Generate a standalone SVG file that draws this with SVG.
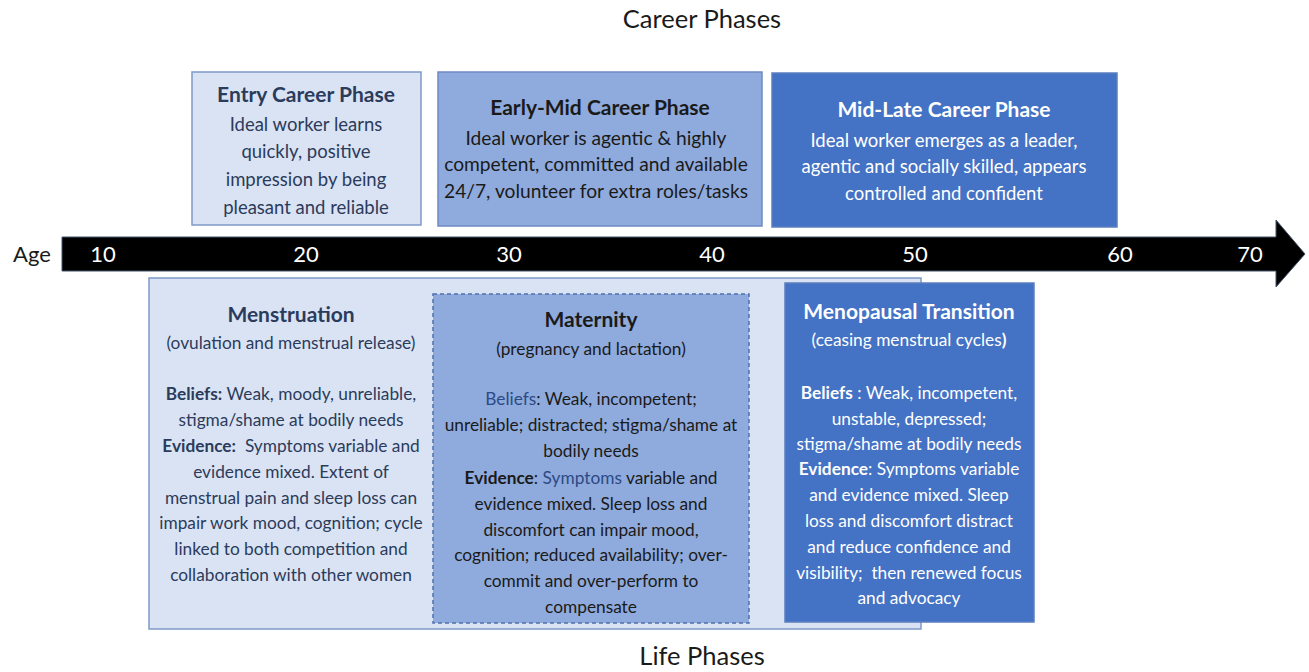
<svg xmlns="http://www.w3.org/2000/svg" width="1309" height="672" viewBox="0 0 1309 672">
  <style>
    text { font-family: Lato, "Open Sans", "Liberation Sans", sans-serif; text-anchor: middle; white-space: pre; }
    .heading { font-size: 25.5px; fill: #1a1a1a; }
    .axis { font-size: 22px; fill: #ffffff; }
    .ttl { font-size: 21px; font-weight: bold; }
    .body { font-size: 18.5px; }
    .bodyL { font-size: 19.2px; }
    .lt { font-size: 17.3px; }
    .b { font-weight: bold; }
    .pale { fill: #dae3f3; stroke: #7f99c8; stroke-width: 1.5; }
    .mid { fill: #8faadc; stroke: #6d8bc4; stroke-width: 1.5; }
    .deep { fill: #4472c4; stroke: #5b7fc0; stroke-width: 1.5; }
    .navy { fill: #2b3b5c; }
    .ink { fill: #1a1a1a; }
    .white { fill: #ffffff; }
  </style>

  <!-- headings -->
  <text class="heading" x="702" y="28">Career Phases</text>
  <text class="heading" x="702" y="665">Life Phases</text>

  <!-- career phase boxes -->
  <g id="entry-career">
    <rect class="pale" x="192" y="72" width="229" height="153"/>
    <text class="ttl navy" x="306" y="102">Entry Career Phase</text>
    <text class="body navy" x="306" y="131">Ideal worker learns</text>
    <text class="body navy" x="306" y="158">quickly, positive</text>
    <text class="body navy" x="306" y="186">impression by being</text>
    <text class="body navy" x="306" y="214">pleasant and reliable</text>
  </g>

  <g id="early-mid-career">
    <rect class="mid" x="438" y="72" width="324" height="154"/>
    <text class="ttl ink" x="600" y="115">Early-Mid Career Phase</text>
    <text class="bodyL ink" x="596" y="145">Ideal worker is agentic &amp; highly</text>
    <text class="bodyL ink" x="596" y="171">competent, committed and available</text>
    <text class="bodyL ink" x="596" y="198">24/7, volunteer for extra roles/tasks</text>
  </g>

  <g id="mid-late-career">
    <rect class="deep" x="772" y="73" width="345" height="154"/>
    <text class="ttl white" x="944" y="117">Mid-Late Career Phase</text>
    <text class="body white" x="944" y="147">Ideal worker emerges as a leader,</text>
    <text class="body white" x="944" y="173">agentic and socially skilled, appears</text>
    <text class="body white" x="944" y="200">controlled and confident</text>
  </g>

  <!-- age axis -->
  <g id="age-axis">
    <text x="32" y="262" style="font-size:22px;fill:#1a1a1a">Age</text>
    <path d="M62,237 H1276 V220 L1305,254 L1276,287 V271 H62 Z" fill="#000000" stroke="#44546a" stroke-width="1"/>
    <text class="axis" x="103" y="262">10</text>
    <text class="axis" x="306" y="262">20</text>
    <text class="axis" x="509" y="262">30</text>
    <text class="axis" x="712" y="262">40</text>
    <text class="axis" x="915" y="262">50</text>
    <text class="axis" x="1120" y="262">60</text>
    <text class="axis" x="1250" y="262">70</text>
  </g>

  <!-- life phase boxes -->
  <g id="menstruation">
    <rect class="pale" x="149" y="278" width="772" height="351"/>
    <text class="ttl navy" x="291" y="322">Menstruation</text>
    <text class="lt navy" x="291" y="349">(ovulation and menstrual release)</text>
    <text class="lt navy" x="291" y="400"><tspan class="b">Beliefs:</tspan> Weak, moody, unreliable,</text>
    <text class="lt navy" x="291" y="426">stigma/shame at bodily needs</text>
    <text class="lt navy" x="291" y="452"><tspan class="b">Evidence:</tspan>  Symptoms variable and</text>
    <text class="lt navy" x="291" y="478">evidence mixed. Extent of</text>
    <text class="lt navy" x="291" y="504">menstrual pain and sleep loss can</text>
    <text class="lt navy" x="291" y="529">impair work mood, cognition; cycle</text>
    <text class="lt navy" x="291" y="555">linked to both competition and</text>
    <text class="lt navy" x="291" y="581">collaboration with other women</text>
  </g>

  <g id="maternity">
    <rect x="433" y="294" width="316" height="329" fill="#8faadc" stroke="#4f72b0" stroke-width="1.5" stroke-dasharray="4,3"/>
    <text class="ttl ink" x="591" y="327">Maternity</text>
    <text class="lt ink" x="591" y="355">(pregnancy and lactation)</text>
    <text class="lt ink" x="591" y="405"><tspan fill="#2c4a85">Beliefs</tspan>: Weak, incompetent;</text>
    <text class="lt ink" x="591" y="431">unreliable; distracted; stigma/shame at</text>
    <text class="lt ink" x="591" y="457">bodily needs</text>
    <text class="lt ink" x="591" y="484"><tspan class="b">Evidence</tspan>: <tspan fill="#2c4a85">Symptoms</tspan> variable and</text>
    <text class="lt ink" x="591" y="510">evidence mixed. Sleep loss and</text>
    <text class="lt ink" x="591" y="536">discomfort can impair mood,</text>
    <text class="lt ink" x="591" y="561">cognition; reduced availability; over-</text>
    <text class="lt ink" x="591" y="587">commit and over-perform to</text>
    <text class="lt ink" x="591" y="613">compensate</text>
  </g>

  <g id="menopausal-transition">
    <rect class="deep" x="785" y="283" width="249" height="339"/>
    <text class="ttl white" x="909" y="319">Menopausal Transition</text>
    <text class="lt white" x="909" y="346">(ceasing menstrual cycles<tspan class="b">)</tspan></text>
    <text class="lt white" x="909" y="399"><tspan class="b">Beliefs</tspan> : Weak, incompetent,</text>
    <text class="lt white" x="909" y="425">unstable, depressed;</text>
    <text class="lt white" x="909" y="450">stigma/shame at bodily needs</text>
    <text class="lt white" x="909" y="475"><tspan class="b">Evidence</tspan>: Symptoms variable</text>
    <text class="lt white" x="909" y="501">and evidence mixed. Sleep</text>
    <text class="lt white" x="909" y="527">loss and discomfort distract</text>
    <text class="lt white" x="909" y="553">and reduce confidence and</text>
    <text class="lt white" x="909" y="579">visibility;  then renewed focus</text>
    <text class="lt white" x="909" y="604">and advocacy</text>
  </g>
</svg>
